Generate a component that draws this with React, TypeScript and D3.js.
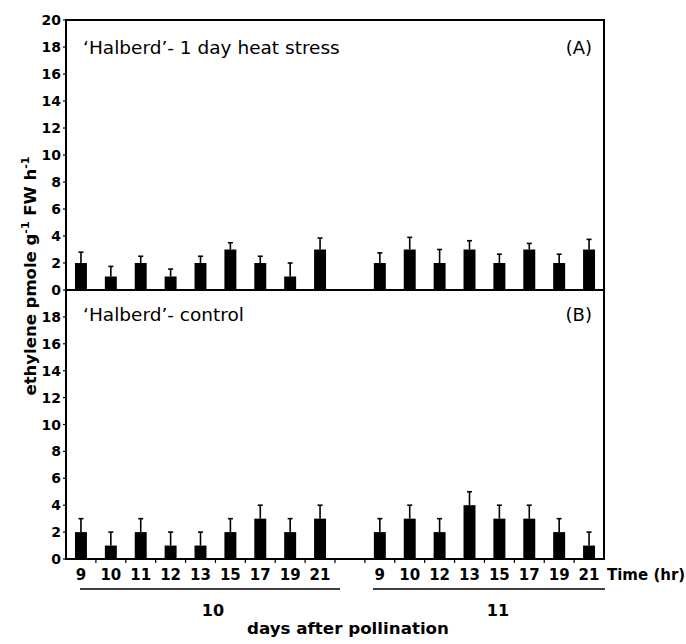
import React from "react";
import * as d3 from "d3";

const day10Times = ["9", "10", "11", "12", "13", "15", "17", "19", "21"];
const day11Times = ["9", "10", "12", "13", "15", "17", "19", "21"];
const dayLabels = ["10", "11"];

const heatDay10 = [2, 1, 2, 1, 2, 3, 2, 1, 3];
const heatDay10Err = [0.8, 0.75, 0.5, 0.55, 0.5, 0.5, 0.5, 1.0, 0.85];
const heatDay11 = [2, 3, 2, 3, 2, 3, 2, 3];
const heatDay11Err = [0.75, 0.9, 1.0, 0.65, 0.65, 0.45, 0.65, 0.75];

const ctrlDay10 = [2, 1, 2, 1, 1, 2, 3, 2, 3];
const ctrlDay10Err = [1, 1, 1, 1, 1, 1, 1, 1, 1];
const ctrlDay11 = [2, 3, 2, 4, 3, 3, 2, 1];
const ctrlDay11Err = [1, 1, 1, 1, 1, 1, 1, 1];

const yTicksA = [0, 2, 4, 6, 8, 10, 12, 14, 16, 18, 20];
const yTicksB = [0, 2, 4, 6, 8, 10, 12, 14, 16, 18];

const keys10 = day10Times.map((t) => `10-${t}`);
const keys11 = day11Times.map((t) => `11-${t}`);
const allKeys = [...keys10, "gap", ...keys11];

const FONT = "'DejaVu Sans', Verdana, sans-serif";

export default function App() {
  const left = 66;
  const right = 604;
  const x = d3.scaleBand<string>().domain(allKeys).range([left, right]).padding(0);
  const bw = x.bandwidth() * 0.4;
  const yA = d3.scaleLinear().domain([0, 20]).range([290, 20]);
  const yB = d3.scaleLinear().domain([0, 20]).range([559, 290]);

  const panels = [
    {
      y: yA,
      ticks: yTicksA,
      title: "\u2018Halberd\u2019- 1 day heat stress",
      tag: "(A)",
      data: [
        ...heatDay10.map((v, i) => ({ k: keys10[i], v, e: heatDay10Err[i] })),
        ...heatDay11.map((v, i) => ({ k: keys11[i], v, e: heatDay11Err[i] })),
      ],
    },
    {
      y: yB,
      ticks: yTicksB,
      title: "\u2018Halberd\u2019- control",
      tag: "(B)",
      data: [
        ...ctrlDay10.map((v, i) => ({ k: keys10[i], v, e: ctrlDay10Err[i] })),
        ...ctrlDay11.map((v, i) => ({ k: keys11[i], v, e: ctrlDay11Err[i] })),
      ],
    },
  ];

  const boundaries = allKeys.slice(1).map((k) => x(k) as number);
  const bottom = yB(0);

  return (
    <svg width={686} height={644} style={{ position: "absolute", left: 0, top: 0 }} fontFamily={FONT}>
      <rect width={686} height={644} fill="#fff" />
      {panels.map((p, pi) => (
        <g key={pi}>
          {p.data.map((d) => {
            const cx = (x(d.k) as number) + x.bandwidth() / 2;
            return (
              <g key={d.k}>
                <line x1={cx} x2={cx} y1={p.y(d.v)} y2={p.y(d.v + d.e)} stroke="#000" strokeWidth={1.6} />
                <line x1={cx - 2.5} x2={cx + 2.5} y1={p.y(d.v + d.e)} y2={p.y(d.v + d.e)} stroke="#000" strokeWidth={1.6} />
                <rect x={cx - bw / 2} y={p.y(d.v)} width={bw} height={p.y(0) - p.y(d.v)} fill="#000" />
              </g>
            );
          })}
          {p.ticks.map((t) => (
            <g key={t}>
              <line x1={left - 3} x2={left} y1={p.y(t)} y2={p.y(t)} stroke="#000" strokeWidth={1.2} />
              <text x={left - 5} y={p.y(t)} dy="0.36em" textAnchor="end" fontSize={14} fontWeight="bold">
                {t}
              </text>
            </g>
          ))}
          <text x={83} y={pi === 0 ? 54 : 321} fontSize={18.5}>
            {p.title}
          </text>
          <text x={592} y={pi === 0 ? 54 : 321} textAnchor="end" fontSize={18}>
            {p.tag}
          </text>
        </g>
      ))}
      <rect x={left} y={20} width={right - left} height={bottom - 20} fill="none" stroke="#000" strokeWidth={2} />
      <line x1={left} x2={right} y1={yA(0)} y2={yA(0)} stroke="#000" strokeWidth={2} />
      {boundaries.map((bx, i) => (
        <line key={i} x1={bx} x2={bx} y1={bottom} y2={bottom + 4} stroke="#000" strokeWidth={1.2} />
      ))}
      {allKeys.filter((k) => k !== "gap").map((k) => (
        <text key={k} x={(x(k) as number) + x.bandwidth() / 2} y={580} textAnchor="middle" fontSize={15} fontWeight="bold">
          {k.split("-")[1]}
        </text>
      ))}
      <text x={607} y={580} fontSize={15} fontWeight="bold">Time (hr)</text>
      <line x1={80} x2={340} y1={589} y2={589} stroke="#000" strokeWidth={1.6} />
      <line x1={373} x2={605} y1={589} y2={589} stroke="#000" strokeWidth={1.6} />
      <text x={213} y={616} textAnchor="middle" fontSize={16} fontWeight="bold">{dayLabels[0]}</text>
      <text x={498} y={616} textAnchor="middle" fontSize={16} fontWeight="bold">{dayLabels[1]}</text>
      <text x={348} y={634} textAnchor="middle" fontSize={16.7} fontWeight="bold">days after pollination</text>
      <text transform="translate(36,276) rotate(-90)" textAnchor="middle" fontSize={16.5} fontWeight="bold">
        ethylene pmole g<tspan dy="-7" fontSize={11}>-1</tspan><tspan dy="7"> FW h</tspan><tspan dy="-7" fontSize={11}>-1</tspan>
      </text>
    </svg>
  );
}
